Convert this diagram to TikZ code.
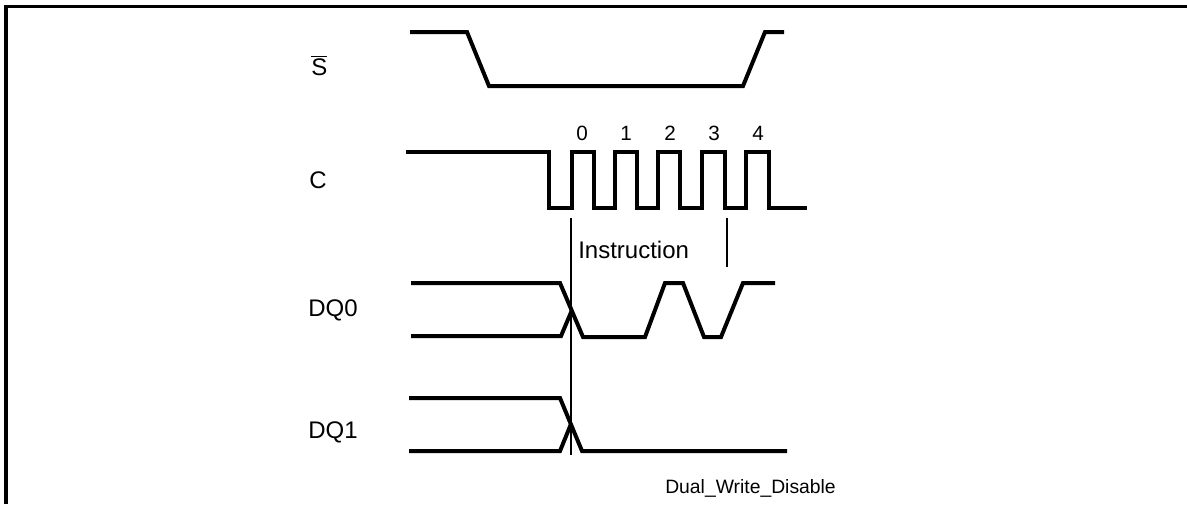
\documentclass[tikz,border=0pt]{standalone}
\usepackage{fontspec}
\setmainfont{Liberation Sans}
\begin{document}
\begin{tikzpicture}[x=0.75pt,y=-0.75pt,
  sig/.style={line width=3pt,line join=miter},
  framebox/.style={line width=2.6pt},
  marker/.style={line width=0.8pt},
  lbl/.style={anchor=base west,inner sep=0pt,font=\fontsize{18}{20}\selectfont},
  digit/.style={anchor=base,inner sep=0pt,font=\fontsize{15.5}{18}\selectfont},
  captext/.style={anchor=base west,inner sep=0pt,font=\fontsize{14.5}{17}\selectfont}]
\useasboundingbox (0,0) rectangle (1187,504);
% frame
\draw[framebox] (6,504) -- (6,6.5) -- (1187,6.5);
% labels
\node[lbl] (ls) at (311,75) {$\overline{\mbox{S}}$};
\node[lbl] (lc) at (309,188) {C};
\node[lbl] (ldq0) at (308,316) {DQ0};
\node[lbl] (ldq1) at (308,438) {DQ1};
\node[digit] (d0) at (582,140.5) {0};
\node[digit] (d1) at (626,140.5) {1};
\node[digit] (d2) at (670,140.5) {2};
\node[digit] (d3) at (714,140.5) {3};
\node[digit] (d4) at (758,140.5) {4};
\node[lbl] (instr) at (578,258) {Instruction};
\node[captext] (title) at (665,493) {Dual\_Write\_Disable};
% S bar
\draw[sig] (410,32) -- (467,32) -- (489,86) -- (743,86) -- (765,32) -- (784,32);
% C
\draw[sig] (406,152) -- (549,152) -- (549,208) -- (572,208) -- (572,152) -- (594,152)
  -- (594,208) -- (615,208) -- (615,152) -- (637,152) -- (637,208) -- (658,208)
  -- (658,152) -- (680,152) -- (680,208) -- (702,208) -- (702,152) -- (725,152)
  -- (725,208) -- (746,208) -- (746,152) -- (769,152) -- (769,208) -- (807,208);
% instruction markers
\coordinate (m1t) at (571,218);
\coordinate (m1b) at (571,455);
\coordinate (m2t) at (727,218);
\coordinate (m2b) at (727,267);
\draw[marker] (m1t) -- (m1b);
\draw[marker] (m2t) -- (m2b);
% DQ0
\draw[sig] (411,283) -- (560,283) -- (583,337) -- (645,337) -- (665,283) -- (683,283)
  -- (704,337) -- (721,337) -- (743,283) -- (775,283);
\draw[sig] (411,336) -- (561,336) -- (572,310);
% DQ1
\draw[sig] (409,398) -- (560,398) -- (582,451) -- (787,451);
\draw[sig] (409,451) -- (560,451) -- (571,424);
\end{tikzpicture}
\end{document}
